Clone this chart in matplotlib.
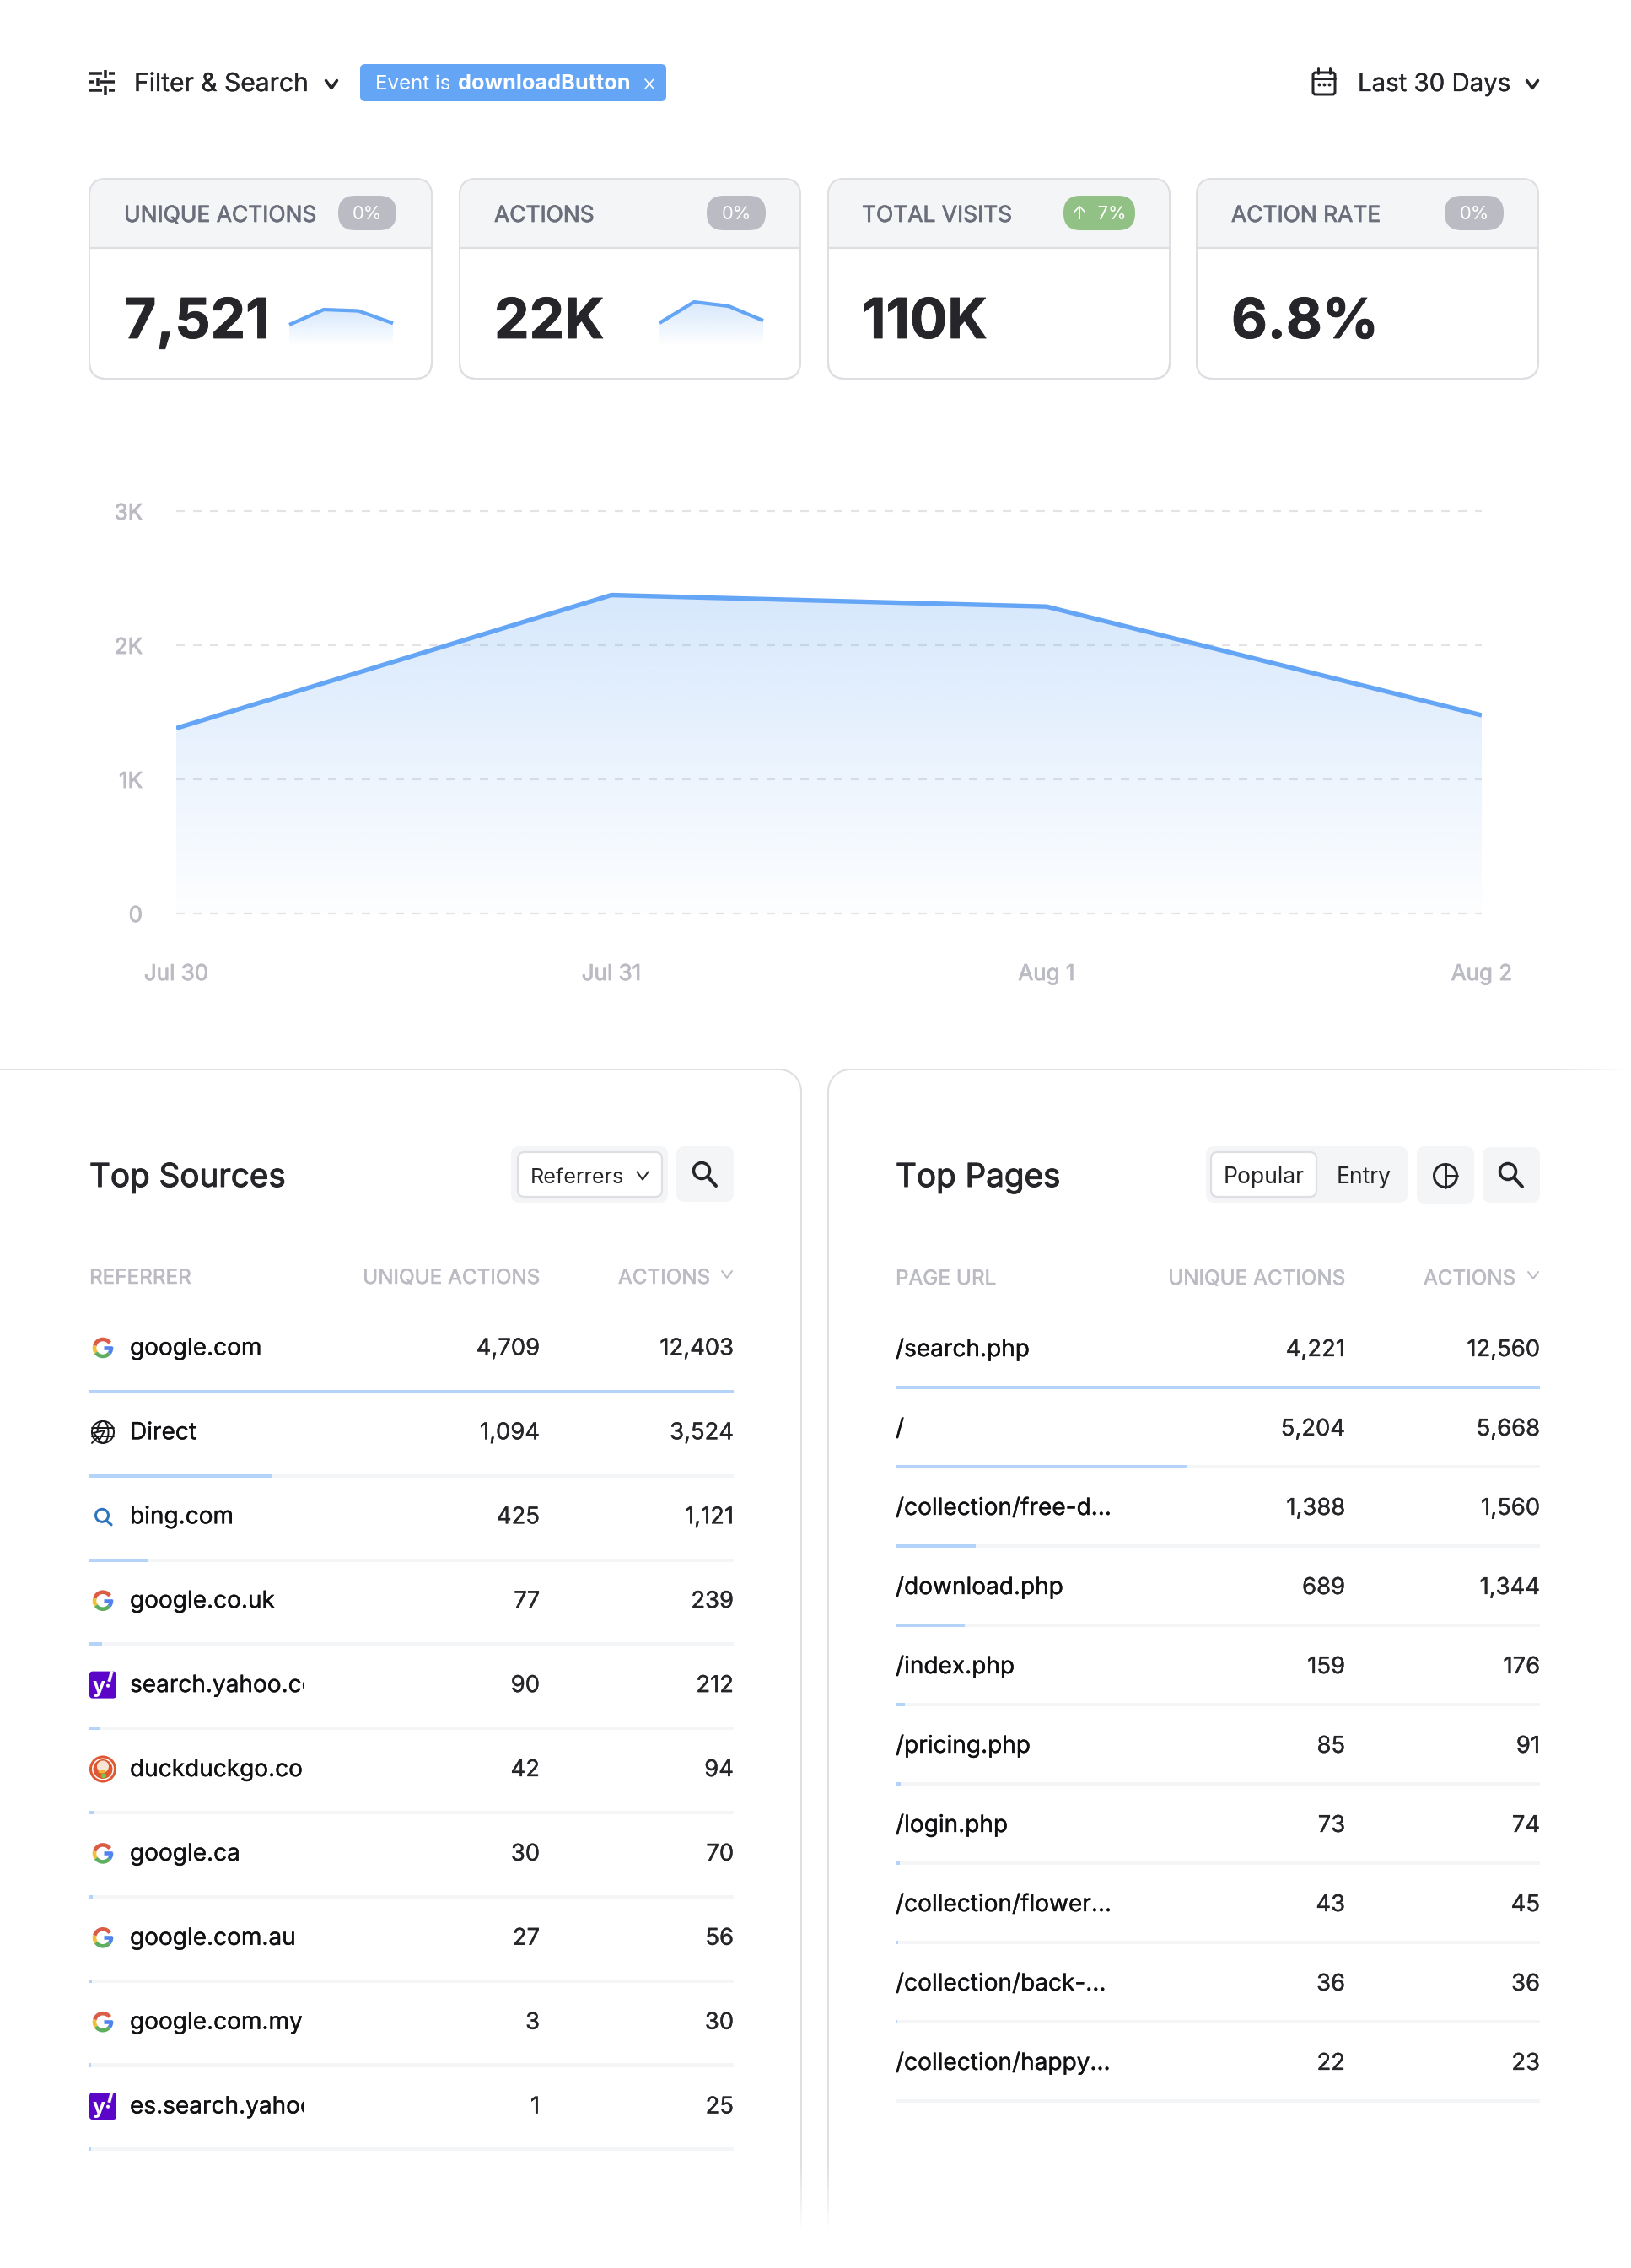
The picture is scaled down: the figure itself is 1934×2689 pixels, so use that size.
import numpy as np
import matplotlib
matplotlib.use("Agg")
import matplotlib.pyplot as plt
import matplotlib.patheffects as pe
from matplotlib.patches import FancyBboxPatch, Rectangle, Circle, Arc, Polygon, Ellipse
from matplotlib.collections import LineCollection
from matplotlib.colors import to_rgb
from matplotlib.transforms import Bbox

W, H = 1934, 2689
plt.rcParams['font.family'] = ['Inter', 'DejaVu Sans']

# ---- data ----
filter_label = "Filter & Search"
range_label = "Last 30 Days"
kpi_labels = ["UNIQUE ACTIONS", "ACTIONS", "TOTAL VISITS", "ACTION RATE"]
kpi_values = ["7,521", "22K", "110K", "6.8%"]
kpi_badges = ["0%", "0%", "↑  7%", "0%"]
days = ["Jul 30", "Jul 31", "Aug 1", "Aug 2"]
unique_daily = [1381, 2374, 2288, 1478]
actions_daily = [3800, 7300, 6600, 4200]
y_ticks = [0, 1000, 2000, 3000]
y_tick_labels = ["0", "1K", "2K", "3K"]

src_names = ["google.com", "Direct", "bing.com", "google.co.uk", "search.yahoo.com",
             "duckduckgo.com", "google.ca", "google.com.au", "google.com.my", "es.search.yahoo.com"]
src_unique = [4709, 1094, 425, 77, 90, 42, 30, 27, 3, 1]
src_actions = [12403, 3524, 1121, 239, 212, 94, 70, 56, 30, 25]
src_icons = ["g", "web", "bing", "g", "y", "duck", "g", "g", "g", "y"]

page_names = ["/search.php", "/", "/collection/free-d…", "/download.php", "/index.php",
              "/pricing.php", "/login.php", "/collection/flower…", "/collection/back-…",
              "/collection/happy…"]
page_unique = [4221, 5204, 1388, 689, 159, 85, 73, 43, 36, 22]
page_actions = [12560, 5668, 1560, 1344, 176, 91, 74, 45, 36, 23]

# ---- colours ----
INK = "#26262A"
BLACK = "#111114"
BLUE = "#64A5F5"
BAR = "#B3D4F8"
TRACK = "#F4F5F7"
EDGE = "#DEDEE3"
GREY = "#BBBBC3"
LABEL = "#6B6E7B"

fig = plt.figure(figsize=(W / 100, H / 100), dpi=100, facecolor="white")


def px(v):
    return v * 0.72


def rect_axes(x0, y0, x1, y1, **kw):
    return fig.add_axes([x0 / W, 1 - y1 / H, (x1 - x0) / W, (y1 - y0) / H], **kw)


bg = fig.add_axes([0, 0, 1, 1], zorder=0)
bg.set_xlim(0, W)
bg.set_ylim(H, 0)
bg.axis("off")


def T(x, y, s, size, color=INK, ha="left", weight="normal", stroke=0.0, **kw):
    t = bg.text(x, y, s, fontsize=px(size), color=color, ha=ha, va="baseline", fontweight=weight, **kw)
    if stroke:
        t.set_path_effects([pe.withStroke(linewidth=px(stroke), foreground=color)])
    return t


def box(x0, y0, x1, y1, r, fc="white", ec="none", lw=0, z=1):
    p = FancyBboxPatch((x0, y0), x1 - x0, y1 - y0, boxstyle=f"round,pad=0,rounding_size={r}",
                       fc=fc, ec=ec, lw=px(lw), zorder=z)
    bg.add_patch(p)
    return p


def L(xs, ys, color=INK, lw=3, z=5, cap="round", ax=None):
    (ax or bg).plot(xs, ys, color=color, lw=px(lw), zorder=z, solid_capstyle=cap, solid_joinstyle="round")


def chevron(x, y, w=7, h=5, color=INK, lw=3):
    L([x - w, x, x + w], [y - h, y + h, y - h], color, lw)


def magnifier(x, y, r=9.5, color=INK, lw=3.5):
    bg.add_patch(Circle((x - 4, y - 4), r, fc="none", ec=color, lw=px(lw), zorder=5))
    L([x + 3, x + 13], [y + 3, y + 14], color, lw + 0.5)


def google_icon(x, y):
    r = 10
    lw = px(4.6)
    for a, b, c in [(195, 325, "#DB5D46"), (145, 195, "#F2C036"), (40, 145, "#5DAE61"), (-5, 40, "#5083EE")]:
        bg.add_patch(Arc((x, y), 2 * r, 2 * r, angle=0, theta1=a, theta2=b, ec=c, lw=lw, zorder=5))
    L([x + 1, x + r + 1], [y, y], "#5083EE", 4.6, cap="butt")


def yahoo_icon(x, y):
    box(x - 16, y - 16, x + 16, y + 16, 4, fc="#5A05C8", z=5)
    bg.text(x - 5, y + 9, "y", color="white", fontsize=px(25), fontweight="bold", ha="center", va="baseline", zorder=6)
    bg.text(x + 7, y + 4, "!", color="white", fontsize=px(26), fontweight="bold", ha="center", va="baseline",
            rotation=-15, zorder=6)


def duck_icon(x, y):
    bg.add_patch(Circle((x, y), 16, fc="#DE5833", ec="none", zorder=5))
    bg.add_patch(Circle((x, y), 13, fc="white", ec="none", zorder=5))
    bg.add_patch(Circle((x, y), 11.5, fc="#DE5833", ec="none", zorder=5))
    bg.add_patch(Circle((x, y - 3), 7, fc="#F6E4D4", ec="none", zorder=6))
    bg.add_patch(Ellipse((x - 1, y + 3), 9, 4, fc="#F2B13B", ec="none", zorder=6))
    bg.add_patch(Circle((x + 1, y + 8), 3, fc="#7FBF4B", ec="none", zorder=6))


def web_icon(x, y):
    c = "#1B1B1F"
    bg.add_patch(Circle((x, y), 13, fc="none", ec=c, lw=px(2), zorder=5))
    bg.add_patch(Ellipse((x, y), 13, 26, fc="none", ec=c, lw=px(2), zorder=5))
    L([x - 13, x + 13], [y - 5, y - 5], c, 2)
    L([x - 13, x + 13], [y + 5, y + 5], c, 2)
    bg.add_patch(Polygon([[x - 11, y + 1], [x + 2, y - 2], [x - 4, y + 9]], fc="white", ec=c, lw=px(2), zorder=6))
    L([x - 13, x - 5], [y + 13, y + 5], c, 2, z=7)


def bing_icon(x, y):
    c = "#2F75BB"
    bg.add_patch(Circle((x - 1, y - 1), 7.5, fc="none", ec=c, lw=px(3), zorder=5))
    L([x + 4, x + 10], [y + 5, y + 10], c, 3.2)


ICONS = {"g": google_icon, "y": yahoo_icon, "duck": duck_icon, "web": web_icon, "bing": bing_icon}

# ---- top bar ----
for seg in [([105, 121], 87), ([129, 136], 87), ([105, 112], 97), ([119, 136], 97), ([105, 121], 107), ([129, 136], 107)]:
    L(seg[0], [seg[1], seg[1]], INK, 3.5, cap="butt")
L([125, 125], [83, 92], INK, 3.5, cap="butt")
L([115.5, 115.5], [92, 102], INK, 3.5, cap="butt")
L([125, 125], [102, 113], INK, 3.5, cap="butt")
T(159, 108, filter_label, 30, stroke=0.3)
chevron(393, 100, 6.5, 4.5, INK, 3.5)
box(427, 76, 790, 120, 6, fc=BLUE, z=2)
T(445, 106, "Event is", 24, "white", zorder=3)
T(543, 106, "downloadButton", 25.3, "white", weight="bold", zorder=3)
L([765, 775], [94, 105], "white", 1.6, z=3)
L([775, 765], [94, 105], "white", 1.6, z=3)

bg.add_patch(FancyBboxPatch((1557, 86), 26, 26, boxstyle="round,pad=0,rounding_size=3", fc="none", ec=INK, lw=px(3), zorder=5))
L([1557, 1583], [93, 93], INK, 3)
L([1563, 1563], [81, 87], INK, 3)
L([1577, 1577], [81, 87], INK, 3)
bg.plot([1564, 1570, 1576], [100, 100, 100], ls="none", marker="o", ms=px(2.5), color=INK, zorder=5)
T(1610, 108, range_label, 29.4, stroke=0.3)
chevron(1817, 100, 6.5, 4.5, INK, 3.5)

# ---- KPI cards ----
card_x = [(106, 512), (545, 949), (982, 1387), (1419, 1824)]
pill_x = [(401, 470), (838, 908), (1261, 1346), (1713, 1783)]
text_x = [147, 586, 1022, 1460]
for i, ((x0, x1), (p0, p1)) in enumerate(zip(card_x, pill_x)):
    c = box(x0, 212, x1, 449, 20, fc="white", ec=EDGE, lw=2, z=1)
    hd = Rectangle((x0, 212), x1 - x0, 82, fc=TRACK, ec="none", zorder=1.1)
    bg.add_patch(hd)
    hd.set_clip_path(c)
    L([x0, x1], [294, 294], EDGE, 2.2, z=1.2, cap="butt")
    box(x0, 212, x1, 449, 20, fc="none", ec=EDGE, lw=2, z=1.3)
    T(text_x[i], 263, kpi_labels[i], 26.4, LABEL, stroke=0.7, zorder=3)
    box(p0, 232, p1, 273, 20, fc="#92C185" if i == 2 else GREY, z=2)
    bg.text((p0 + p1) / 2, 260, kpi_badges[i], color="white", fontsize=px(22), ha="center", va="baseline", zorder=3)
    T(text_x[i], 401, kpi_values[i], 66, INK, weight="bold", stroke=0.8, zorder=3)


# ---- gradient filled lines ----
def grad_area(ax, xs, ys, top_alpha, bot_alpha, ymax):
    poly = ax.fill_between(xs, ys, 0, color="none", zorder=2)
    rgb = to_rgb(BLUE)
    n = 256
    g = np.zeros((n, 2, 4))
    g[..., :3] = rgb
    g[..., 3] = np.linspace(bot_alpha, top_alpha, n)[:, None]
    im = ax.imshow(g, extent=[xs[0], xs[-1], 0, ymax], origin="lower", aspect="auto", zorder=2,
                   interpolation="bilinear")
    im.set_clip_path(poly.get_paths()[0], transform=ax.transData)


def spark(x0, x1, vals, px_per, base=410, top=350):
    ax = rect_axes(x0, top, x1, base, zorder=2)
    xs = np.arange(len(vals))
    ym = (base - top) / px_per
    grad_area(ax, xs, vals, 0.26, 0.0, max(vals))
    ax.plot(xs, vals, color=BLUE, lw=px(4.2), zorder=3, solid_capstyle="butt", clip_on=False)
    ax.set_xlim(0, len(vals) - 1)
    ax.set_ylim(0, ym)
    ax.axis("off")


spark(343, 466, unique_daily, 43 / 2374)
spark(782, 905, actions_daily, 52 / 7300)

# ---- main chart ----
ax = rect_axes(209, 606, 1757, 1083, zorder=1)
ax.patch.set_alpha(0)
xs = np.arange(len(days))
ax.yaxis.grid(True, color="#E2E2E7", lw=px(2.2), dashes=(10 / 2.2, 10 / 2.2), zorder=1, clip_on=False)
ax.set_axisbelow(True)
grad_area(ax, xs, unique_daily, 0.26, 0.012, max(unique_daily))
ax.plot(xs, unique_daily, color=BLUE, lw=px(5.4), zorder=3, solid_capstyle="butt")
ax.set_xlim(0, 3)
ax.set_ylim(0, 3000)
ax.set_xticks(xs, days)
ax.set_yticks(y_ticks, y_tick_labels)
ax.tick_params(length=0, colors=GREY, labelsize=px(26))
ax.tick_params(axis="x", pad=px(59))
ax.tick_params(axis="y", pad=px(40))
for lab in ax.get_xticklabels() + ax.get_yticklabels():
    lab.set_path_effects([pe.withStroke(linewidth=px(0.8), foreground=GREY)])
for s in ax.spines.values():
    s.set_visible(False)


# ---- panels ----
def fade_line(p0, p1, color=EDGE, lw=2, n=40):
    xs_ = np.linspace(p0[0], p1[0], n + 1)
    ys_ = np.linspace(p0[1], p1[1], n + 1)
    segs = [[(xs_[i], ys_[i]), (xs_[i + 1], ys_[i + 1])] for i in range(n)]
    rgb = to_rgb(color)
    cols = [rgb + (1 - (i + 0.5) / n,) for i in range(n)]
    bg.add_collection(LineCollection(segs, colors=cols, linewidths=px(lw), zorder=1, capstyle="butt"))


R = 26
L([0, 950 - R], [1268, 1268], EDGE, 2, z=1, cap="butt")
bg.add_patch(Arc((950 - R, 1268 + R), 2 * R, 2 * R, theta1=270, theta2=360, ec=EDGE, lw=px(2), zorder=1))
L([950, 950], [1268 + R, 2560], EDGE, 2, z=1, cap="butt")
fade_line((950, 2560), (950, 2645))

L([982 + R, 1830], [1268, 1268], EDGE, 2, z=1, cap="butt")
bg.add_patch(Arc((982 + R, 1268 + R), 2 * R, 2 * R, theta1=180, theta2=270, ec=EDGE, lw=px(2), zorder=1))
L([982, 982], [1268 + R, 2560], EDGE, 2, z=1, cap="butt")
fade_line((982, 2560), (982, 2645))
fade_line((1830, 1268), (1930, 1268))

# left header
T(106, 1407, "Top Sources", 38.6, INK, stroke=1.0)
box(606, 1359, 792, 1426, 10, fc=TRACK, z=2)
box(614, 1366, 785, 1419, 8, fc="white", ec=EDGE, lw=2.2, z=3)
T(629, 1403, "Referrers", 25.2, INK, zorder=4)
chevron(762, 1394, 6.5, 4.5, INK, 2)
box(802, 1359, 870, 1425, 10, fc=TRACK, z=2)
magnifier(836, 1392)

# right header
T(1062, 1407, "Top Pages", 38.6, INK, stroke=1.0)
box(1430, 1359, 1669, 1426, 10, fc=TRACK, z=2)
box(1436, 1366, 1561, 1419, 8, fc="white", ec=EDGE, lw=2.2, z=3)
bg.text(1498.5, 1403, "Popular", fontsize=px(26.5), color=INK, ha="center", va="baseline", zorder=4)
bg.text(1617, 1403, "Entry", fontsize=px(26.5), color=INK, ha="center", va="baseline", zorder=4)
box(1680, 1359, 1748, 1427, 10, fc=TRACK, z=2)
bg.add_patch(Circle((1714, 1394), 13.5, fc="none", ec=INK, lw=px(3), zorder=5))
L([1714, 1714], [1380, 1408], INK, 3)
L([1714, 1728], [1394, 1394], INK, 3)
box(1758, 1360, 1826, 1426, 10, fc=TRACK, z=2)
magnifier(1792, 1393)


# ---- tables ----
def table(x0, x1, xu, xa, xchev, head0, names, uniq, acts, base0, step, bar0, bar_step, head_y, clip=None, icons=None):
    T(x0, head_y, head0, 24.3, GREY, stroke=0.5)
    T(xu, head_y, "UNIQUE ACTIONS", 24.3, GREY, ha="right", stroke=0.5)
    T(xa, head_y, "ACTIONS", 24.3, GREY, ha="right", stroke=0.5)
    chevron(xchev, head_y - 11, 6, 4, GREY, 2)
    tx = x0 + 48 if icons else x0
    for i, name in enumerate(names):
        y = base0 + step * i
        t = T(tx, y, name, 28, BLACK, stroke=0.3)
        if clip:
            t.set_clip_box(Bbox([[0, 0], [clip, H]]))
            t.set_clip_on(True)
        T(xu, y, f"{uniq[i]:,}", 27.4, INK, ha="right", stroke=0.3)
        T(x1, y, f"{acts[i]:,}", 27.4, INK, ha="right", stroke=0.3)
        if icons:
            ICONS[icons[i]](x0 + 16, y - 8.5)
    n = len(names)
    a = rect_axes(x0, bar0 - bar_step / 2, x1, bar0 + bar_step * (n - 0.5), zorder=1)
    a.patch.set_alpha(0)
    rows = np.arange(n)
    h = 4.2 / bar_step
    mx = max(acts)
    a.barh(rows, [mx] * n, height=h, color=TRACK, zorder=1)
    a.barh(rows, acts, height=h, color=BAR, zorder=2)
    a.set_xlim(0, mx)
    a.set_ylim(n - 0.5, -0.5)
    a.axis("off")


table(106, 870, 640, 842, 862, "REFERRER", src_names, src_unique, src_actions,
      1606.5, 99.9, 1650, 99.8, 1522, clip=360, icons=src_icons)
table(1062, 1826, 1595, 1797, 1818, "PAGE URL", page_names, page_unique, page_actions,
      1608, 94, 1645, 94, 1523)

fig.savefig("out.png", dpi=100, facecolor="white")
